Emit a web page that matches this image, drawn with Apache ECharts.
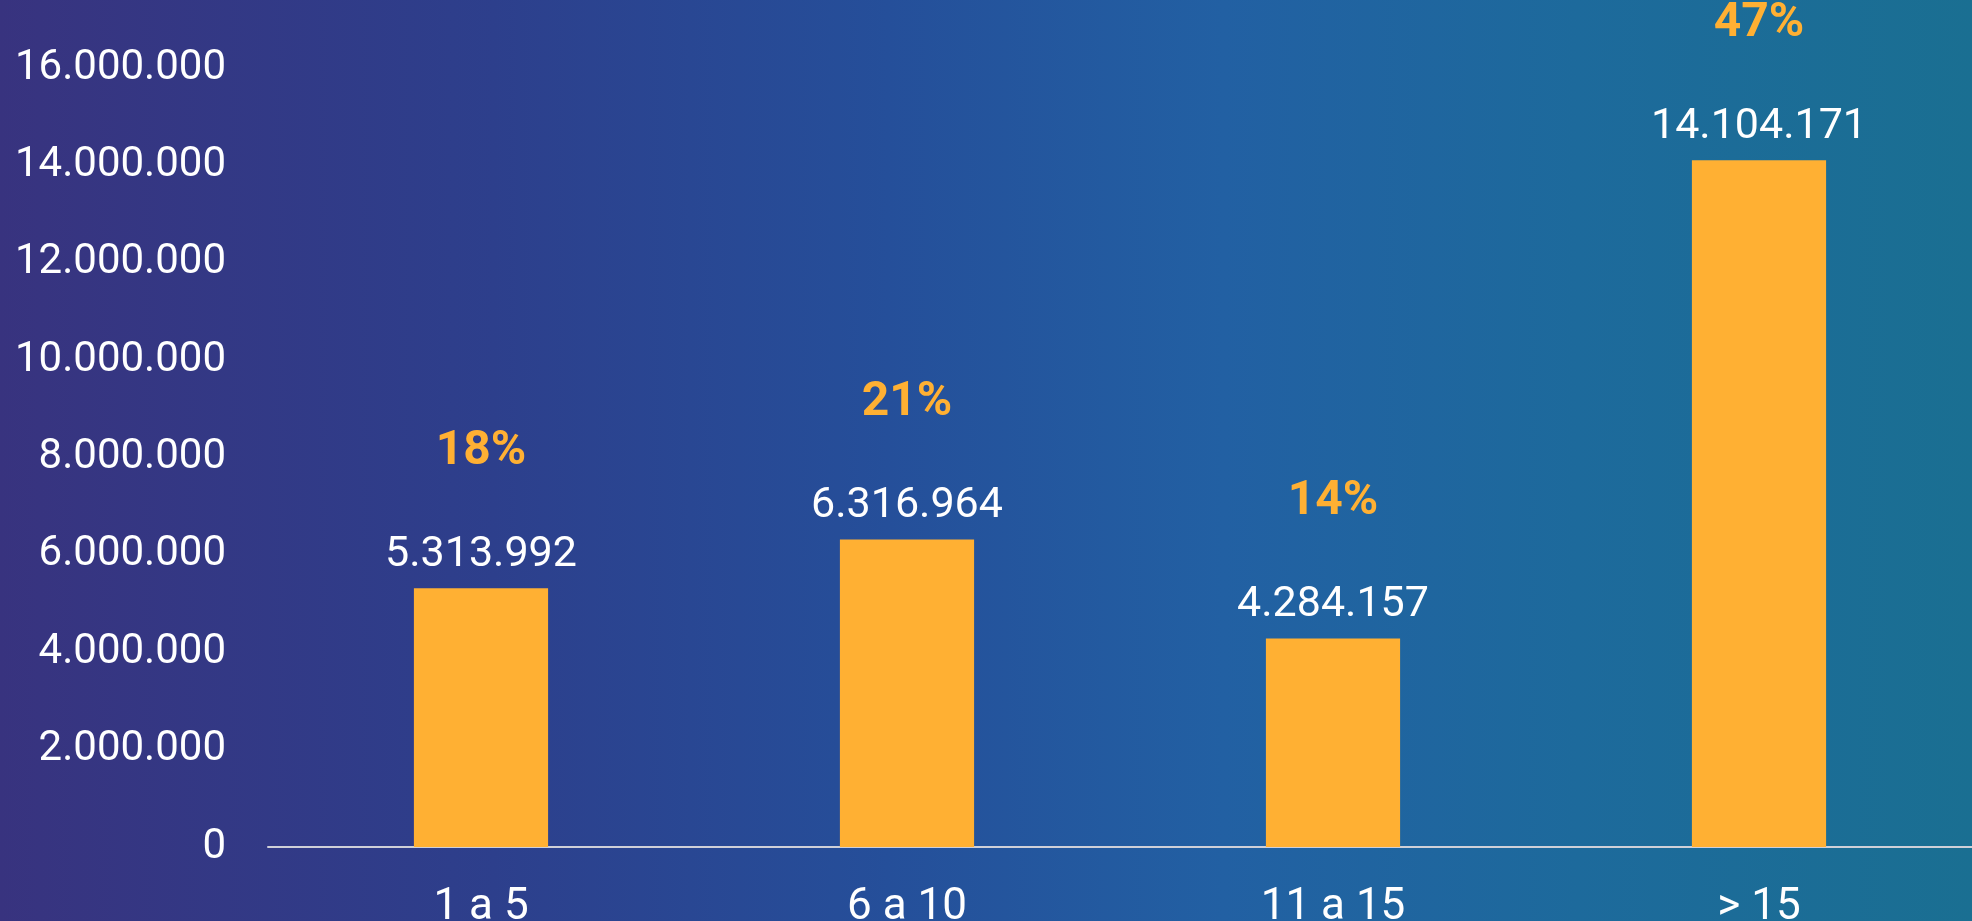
<!DOCTYPE html>
<html>
<head>
<meta charset="utf-8">
<script src="https://cdn.jsdelivr.net/npm/echarts@6/dist/echarts.min.js"></script>
<style>
html,body{margin:0;padding:0;width:1972px;height:921px;overflow:hidden;}
#bg{position:absolute;left:0;top:0;width:1972px;height:921px;
background:linear-gradient(90deg,#38337f 0%,#2d3f8c 25%,#254f9a 45%,#2260a3 62%,#1d6a9c 80%,#1a6f92 100%);}
#chart{position:absolute;left:0;top:0;width:1972px;height:921px;}
</style>
</head>
<body>
<div id="bg"></div>
<div id="chart"></div>
<script>
const categories = ['1 a 5', '6 a 10', '11 a 15', '> 15'];
const values = [5313992, 6316964, 4284157, 14104171];
const percents = ['18%', '21%', '14%', '47%'];
const yTicks = { min: 0, max: 16000000, interval: 2000000 };

function fmt(n) {
  return String(n).replace(/\B(?=(\d{3})+(?!\d))/g, '.');
}

const chart = echarts.init(document.getElementById('chart'), null, { renderer: 'canvas' });
chart.setOption({
  backgroundColor: 'transparent',
  animation: false,
  grid: { left: 268, right: 0, top: 68, bottom: 74, containLabel: false, outerBoundsMode: 'none' },
  xAxis: {
    type: 'category',
    data: categories,
    axisLine: { show: true, lineStyle: { color: '#cfd0d8', width: 2 } },
    axisTick: { show: false },
    axisLabel: { color: '#ffffff', fontFamily: 'Roboto', fontSize: 44, margin: 39 }
  },
  yAxis: {
    type: 'value',
    min: yTicks.min, max: yTicks.max, interval: yTicks.interval,
    axisLine: { show: false },
    axisTick: { show: false },
    splitLine: { show: false },
    axisLabel: { color: '#ffffff', fontFamily: 'Roboto', fontSize: 42, margin: 42,
      formatter: v => fmt(v) }
  },
  series: [{
    type: 'bar',
    data: values,
    barWidth: '31.5%',
    itemStyle: { color: '#ffb033' },
    label: {
      show: true,
      position: 'top',
      distance: 8,
      formatter: p => '{p|' + percents[p.dataIndex] + '}\n{v|' + fmt(p.value) + '}',
      rich: {
        p: { color: '#ffb033', fontFamily: 'Roboto', fontWeight: 'bold', fontSize: 48, lineHeight: 156, align: 'center' },
        v: { color: '#ffffff', fontFamily: 'Roboto', fontSize: 43, lineHeight: 50, align: 'center' }
      }
    }
  }]
});
</script>
</body>
</html>
